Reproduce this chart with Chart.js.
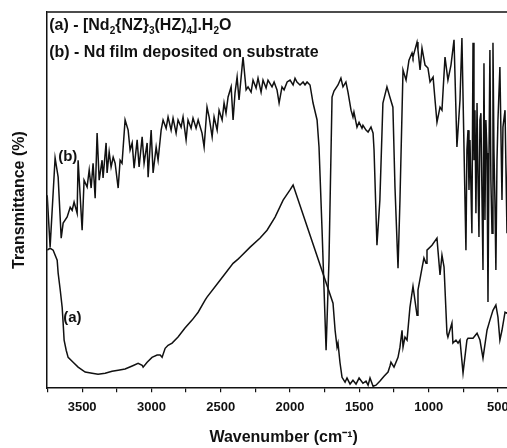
<!DOCTYPE html>
<html>
<head>
<meta charset="utf-8">
<script src="https://cdn.jsdelivr.net/npm/chart.js@4.4.1/dist/chart.umd.min.js"></script>
<style>
  html, body { margin: 0; padding: 0; overflow: hidden; background: #fff; }
  #wrap { width: 540px; height: 448px; }
</style>
</head>
<body>
<div id="wrap"><canvas id="ftir" width="540" height="448"></canvas></div>
<script>
// tick values (cm-1)
const xTickLabels = [3500, 3000, 2500, 2000, 1500, 1000, 500];
const xMinorTicks = [3750, 3250, 2750, 2250, 1750, 1250, 750];

// (a) complex
const aWave = [
  3752, 3731, 3709, 3680, 3673, 3658, 3644, 3637, 3630, 3615,
  3601, 3565, 3529, 3478, 3428, 3385, 3334, 3284, 3240, 3190,
  3139, 3096, 3067, 3060, 3031, 2996, 2959, 2937, 2923, 2901,
  2880, 2851, 2808, 2758, 2707, 2663, 2613, 2599, 2505, 2411,
  2375, 2361, 2288, 2216, 2166, 2108, 2050, 2000, 1978, 1690,
  1675, 1661, 1654, 1640, 1625, 1603, 1589, 1567, 1546, 1524,
  1502, 1474, 1452, 1437, 1423, 1401, 1380, 1351, 1322, 1293,
  1279, 1272, 1250, 1221, 1207, 1192, 1185, 1171, 1156, 1135,
  1113, 1084, 1077, 1048, 1034, 1019, 1012, 976, 940, 933,
  918, 904, 889, 868, 861, 832, 825, 803, 788, 774,
  752, 724, 716, 680, 651, 630, 608, 579, 558, 536,
  515, 500, 486, 471, 449, 435, 399
];
const aTrans = [
  36.7, 37.2, 36.7, 34.0, 30.6, 26.1, 21.5, 17.3, 12.8, 10.1,
  8.2, 6.9, 5.6, 4.3, 4.0, 3.7, 4.0, 4.5, 4.8, 5.1,
  5.9, 6.6, 6.1, 5.6, 6.9, 8.2, 8.8, 8.8, 8.2, 10.6,
  11.4, 12.0, 13.6, 16.0, 18.1, 20.2, 23.4, 24.2, 28.7, 33.2,
  34.3, 34.8, 37.5, 39.9, 42.0, 45.5, 50.0, 52.7, 54.0, 22.6,
  15.4, 10.9, 12.0, 6.9, 2.9, 1.6, 2.7, 1.1, 2.1, 1.1,
  2.7, 1.3, 1.9, 0.8, 2.7, 0.5, 0.8, 1.9, 3.2, 4.3,
  5.9, 6.9, 5.6, 8.2, 10.9, 15.4, 10.9, 13.6, 12.8, 21.5,
  27.1, 19.4, 26.1, 31.9, 34.6, 33.2, 36.7, 38.0, 39.9, 36.7,
  30.1, 35.4, 32.2, 14.6, 13.6, 17.3, 12.0, 12.8, 12.0, 12.8,
  4.0, 12.8, 13.3, 13.3, 14.6, 12.8, 8.0, 15.4, 18.1, 20.7,
  22.1, 18.9, 12.8, 15.4, 20.2, 19.9, 22.1
];

// (b) Nd film
const bWave = [
  3752, 3731, 3695, 3673, 3651, 3637, 3608, 3586, 3572, 3558,
  3536, 3529, 3500, 3486, 3464, 3449, 3435, 3421, 3406, 3392,
  3377, 3356, 3349, 3327, 3320, 3305, 3291, 3276, 3262, 3240,
  3226, 3212, 3190, 3168, 3154, 3139, 3125, 3103, 3089, 3067,
  3053, 3031, 3024, 3002, 2988, 2966, 2952, 2930, 2916, 2894,
  2880, 2858, 2844, 2822, 2808, 2786, 2772, 2750, 2736, 2714,
  2700, 2678, 2663, 2635, 2620, 2599, 2584, 2562, 2548, 2526,
  2512, 2490, 2476, 2462, 2447, 2425, 2411, 2397, 2382, 2368,
  2346, 2339, 2317, 2303, 2281, 2267, 2245, 2231, 2209, 2195,
  2173, 2159, 2130, 2115, 2094, 2079, 2058, 2043, 2021, 2000,
  1978, 1964, 1950, 1928, 1906, 1892, 1877, 1856, 1834, 1805,
  1791, 1769, 1740, 1719, 1697, 1683, 1654, 1633, 1618, 1597,
  1582, 1560, 1546, 1539, 1517, 1502, 1481, 1474, 1452, 1437,
  1416, 1401, 1394, 1373, 1352, 1330, 1301, 1280, 1258, 1243,
  1221, 1207, 1185, 1163, 1142, 1120, 1113, 1084, 1077, 1062,
  1048, 1026, 1005, 990, 968, 954, 940, 918, 904, 882,
  861, 839, 817, 796, 774, 760,
  731, 724, 716, 709, 702, 688, 680, 673, 666, 659,
  651, 644, 637, 630, 623, 615, 608, 601, 594, 587,
  579, 572, 565, 558, 551, 543, 536, 529, 522, 515,
  507, 500, 486, 471, 464, 449, 435, 421
];
const bTrans = [
  51.3, 37.5, 61.2, 56.1, 39.9, 43.9, 45.5, 48.1, 47.3, 49.5,
  46.5, 60.6, 42.0, 55.3, 53.5, 58.0, 53.2, 59.8, 50.5, 67.8,
  55.3, 60.6, 55.9, 65.2, 57.2, 62.8, 58.8, 61.4, 59.8, 53.2,
  60.6, 59.8, 71.3, 68.6, 63.3, 65.2, 58.5, 66.0, 58.8, 66.8,
  59.8, 65.2, 56.1, 68.6, 57.2, 64.1, 60.6, 68.6, 71.3, 69.1,
  72.1, 68.6, 71.8, 67.8, 71.3, 69.4, 72.1, 66.0, 71.3, 69.1,
  71.8, 69.1, 71.3, 67.8, 64.1, 74.7, 72.1, 66.8, 72.1, 68.6,
  73.9, 71.3, 75.8, 73.1, 77.4, 80.1, 71.3, 78.5, 82.7, 76.6,
  85.4, 88.0, 79.3, 80.1, 78.7, 81.9, 79.8, 82.4, 78.7, 81.9,
  79.8, 81.9, 80.1, 81.4, 79.3, 75.8, 80.1, 79.3, 81.4, 81.9,
  80.6, 82.4, 81.4, 80.6, 81.4, 80.6, 81.4, 80.6, 75.8, 71.3,
  64.1, 42.0, 10.1, 34.0, 77.4, 79.0, 80.6, 82.4, 80.1, 81.4,
  78.7, 73.9, 72.1, 73.4, 69.4, 70.7, 69.1, 69.9, 68.6, 68.1,
  69.4, 67.8, 63.3, 38.0, 50.0, 75.8, 80.1, 77.4, 74.7, 53.5,
  31.9, 50.0, 84.6, 81.9, 87.2, 89.1, 88.0, 92.0, 89.9, 84.6,
  90.4, 85.9, 85.1, 81.4, 82.7, 76.6, 70.7, 74.7, 73.9, 88.0,
  81.9, 85.9, 92.6, 64.1, 76.6, 93.1,
  36.7, 63.3, 68.6, 52.7, 66.0, 41.2, 91.8, 60.6, 73.9, 46.5,
  75.8, 55.3, 40.2, 71.3, 73.1, 50.0, 31.4, 86.4, 44.7, 71.3,
  62.5, 22.9, 60.6, 89.9, 55.3, 41.2, 91.8, 63.3, 50.0, 31.4,
  60.6, 71.3, 85.4, 50.0, 69.4, 73.9, 41.2, 87.2
];

const FONT = "'Liberation Sans', Arial, sans-serif";
const INK = '#111111';

// legend lines, [text, isSubscript]
const noteA = [['(a) - [Nd', 0], ['2', 1], ['{NZ}', 0], ['3', 1], ['(HZ)', 0], ['4', 1], ['].H', 0], ['2', 1], ['O', 0]];
const noteB = [['(b) - Nd film deposited on substrate', 0]];

const toPoints = (xs, ys) => xs.map((x, i) => ({ x: x, y: ys[i] }));

function drawRich(ctx, parts, x, y) {
  let cx = x;
  parts.forEach(([t, sub]) => {
    ctx.font = sub ? `bold 10px ${FONT}` : `bold 16px ${FONT}`;
    ctx.fillText(t, cx, sub ? y + 5 : y);
    cx += ctx.measureText(t).width;
  });
}

// frame top line + in-plot labels
const annotations = {
  id: 'annotations',
  afterDraw(chart) {
    const { ctx, chartArea: ca } = chart;
    ctx.save();
    ctx.strokeStyle = INK;
    ctx.lineWidth = 1.5;
    ctx.beginPath();
    ctx.moveTo(ca.left, ca.top);
    ctx.lineTo(ca.right, ca.top);
    ctx.stroke();

    ctx.fillStyle = INK;
    ctx.textBaseline = 'middle';
    ctx.textAlign = 'left';
    drawRich(ctx, noteA, ca.left + 2, ca.top + 14);
    drawRich(ctx, noteB, ca.left + 2, ca.top + 41);
    ctx.font = `bold 15px ${FONT}`;
    ctx.fillText('(b)', ca.left + 11, ca.top + 145);
    ctx.fillText('(a)', ca.left + 16, ca.top + 306);
    ctx.restore();
  }
};

new Chart(document.getElementById('ftir'), {
  type: 'line',
  data: {
    datasets: [
      { label: '(a)', data: toPoints(aWave, aTrans), borderColor: INK, borderWidth: 1.5, pointRadius: 0, tension: 0, fill: false },
      { label: '(b)', data: toPoints(bWave, bTrans), borderColor: INK, borderWidth: 1.5, pointRadius: 0, tension: 0, fill: false }
    ]
  },
  options: {
    responsive: false,
    animation: false,
    devicePixelRatio: 1,
    layout: { padding: { top: 12, right: 20, bottom: 0, left: 0 } },
    plugins: { legend: { display: false }, tooltip: { enabled: false } },
    scales: {
      x: {
        type: 'linear',
        reverse: true,
        min: 341,
        max: 3752,
        afterBuildTicks: (scale) => {
          scale.ticks = xTickLabels.concat(xMinorTicks).sort((p, q) => p - q).map(v => ({ value: v }));
        },
        ticks: {
          autoSkip: false,
          maxRotation: 0,
          padding: 7,
          color: INK,
          font: { family: FONT, size: 13, weight: 'bold' },
          callback: (v) => xTickLabels.includes(v) ? String(v) : ''
        },
        grid: { drawOnChartArea: false, drawTicks: true, tickLength: 4, color: INK, lineWidth: 1.2 },
        border: { display: true, color: INK, width: 1.5 },
        title: {
          display: true,
          text: 'Wavenumber (cm⁻¹)',
          color: INK,
          font: { family: FONT, size: 16, weight: 'bold' },
          padding: { top: 6, bottom: 1 }
        }
      },
      y: {
        min: 0,
        max: 100,
        ticks: { display: false },
        grid: { display: false, drawTicks: false },
        border: { display: true, color: INK, width: 1.5 },
        title: {
          display: true,
          text: 'Transmittance (%)',
          color: INK,
          font: { family: FONT, size: 16, weight: 'bold' },
          padding: { top: 10, bottom: 18 }
        }
      }
    }
  },
  plugins: [annotations]
});
</script>
</body>
</html>
